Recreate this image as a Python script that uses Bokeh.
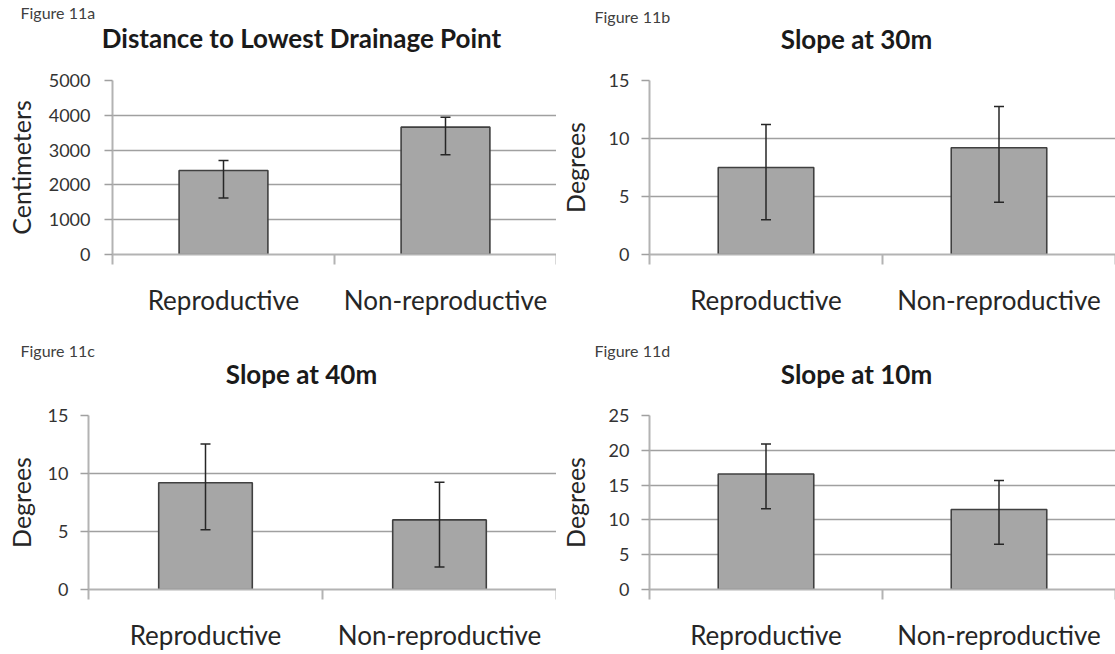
import numpy as np
from bokeh.plotting import figure
from bokeh.models import ColumnDataSource, Range1d, FixedTicker, Whisker, TeeHead, Label
from bokeh.layouts import column, row
from bokeh.embed import file_html
from bokeh.resources import INLINE

# ---------------- data ----------------
categories = ["Reproductive", "Non-reproductive"]

fig_tags = ["Figure 11a", "Figure 11b", "Figure 11c", "Figure 11d"]
titles = ["Distance to Lowest Drainage Point", "Slope at 30m", "Slope at 40m", "Slope at 10m"]
y_labels = ["Centimeters", "Degrees", "Degrees", "Degrees"]
y_max = [5000, 15, 15, 25]
y_step = [1000, 5, 5, 5]

dist_mean = [2415, 3660]
dist_low = [1620, 2865]
dist_high = [2700, 3945]

slope30_mean = [7.5, 9.2]
slope30_low = [3.0, 4.5]
slope30_high = [11.2, 12.75]

slope40_mean = [9.2, 6.0]
slope40_low = [5.15, 1.95]
slope40_high = [12.55, 9.25]

slope10_mean = [16.6, 11.5]
slope10_low = [11.6, 6.5]
slope10_high = [20.9, 15.65]

# ---------------- styling ----------------
FONT = "Lato"
AXIS_COL = "#b3b3b3"
GRID_COL = "#a0a0a0"
TEXT_COL = "#262626"
TEXT_SHIFT = 7  # empirical vertical correction for header labels


def header(i, W, H, ox, oy, title_xy, tag_xy):
    h = figure(width=W, height=H, output_backend="svg", toolbar_location=None,
               tools="", x_range=Range1d(0, W), y_range=Range1d(0, H),
               x_axis_location=None, y_axis_location=None, min_border=0,
               min_border_left=0, min_border_right=0, min_border_top=0,
               min_border_bottom=0)
    h.title.visible = False
    h.outline_line_color = None
    h.grid.visible = False
    h.background_fill_color = "white"
    h.border_fill_color = "white"
    h.add_layout(Label(x=title_xy[0] - ox, y=H - (title_xy[1] - TEXT_SHIFT - oy),
                       text=titles[i], text_font=FONT, text_font_size="26px",
                       text_font_style="bold", text_color="#1a1a1a",
                       text_align="center", text_baseline="alphabetic"))
    h.add_layout(Label(x=tag_xy[0] - ox, y=H - (tag_xy[1] - TEXT_SHIFT - oy),
                       text=fig_tags[i], text_font=FONT, text_font_size="16px",
                       text_font_style="normal", text_color="#404040",
                       text_align="left", text_baseline="alphabetic"))
    return h


def panel(i, mean, low, high, W, H, lb, rb, tb, bb, tick_standoff, label_standoff, bar_w):
    n = len(categories)
    ymax = y_max[i]
    p = figure(width=W, height=H, output_backend="svg", toolbar_location=None,
               tools="", min_border_left=lb, min_border_right=rb,
               min_border_top=tb, min_border_bottom=bb,
               x_range=Range1d(0, n), y_range=Range1d(0, ymax))
    p.title.visible = False
    p.outline_line_color = None
    p.background_fill_color = "white"
    p.border_fill_color = "white"

    centers = [k + 0.5 for k in range(n)]
    edges = [float(k) for k in range(n + 1)]
    src = ColumnDataSource(dict(x=centers, top=mean, low=low, high=high))

    # y grid / axis
    yt = FixedTicker(ticks=list(np.arange(0, ymax + y_step[i] / 2, y_step[i])))
    p.yaxis.ticker = yt
    p.ygrid.ticker = yt
    p.ygrid.grid_line_color = GRID_COL
    p.ygrid.grid_line_width = 1.3
    p.xgrid.visible = False
    p.yaxis.axis_line_color = AXIS_COL
    p.yaxis.axis_line_width = 2
    p.yaxis.major_tick_line_color = GRID_COL
    p.yaxis.major_tick_line_width = 1.3
    p.yaxis.major_tick_in = 0
    p.yaxis.major_tick_out = 8
    p.yaxis.minor_tick_line_color = None
    p.yaxis.major_label_text_font = FONT
    p.yaxis.major_label_text_font_size = "18px"
    p.yaxis.major_label_text_color = "#333333"
    p.yaxis.major_label_standoff = tick_standoff
    p.yaxis.axis_label = y_labels[i]
    p.yaxis.axis_label_text_font = FONT
    p.yaxis.axis_label_text_font_size = "25px"
    p.yaxis.axis_label_text_font_style = "normal"
    p.yaxis.axis_label_text_color = TEXT_COL
    p.yaxis.axis_label_standoff = label_standoff

    # x axis
    p.xaxis.ticker = FixedTicker(ticks=centers, minor_ticks=edges)
    p.xaxis.major_label_overrides = {c: lab for c, lab in zip(centers, categories)}
    p.xaxis.axis_line_color = AXIS_COL
    p.xaxis.axis_line_width = 2
    p.xaxis.major_tick_line_color = None
    p.xaxis.major_tick_in = 0
    p.xaxis.major_tick_out = 0
    p.xaxis.minor_tick_line_color = AXIS_COL
    p.xaxis.minor_tick_line_width = 2
    p.xaxis.minor_tick_in = 0
    p.xaxis.minor_tick_out = 10
    p.xaxis.major_label_text_font = FONT
    p.xaxis.major_label_text_font_size = "26px"
    p.xaxis.major_label_text_color = TEXT_COL
    p.xaxis.major_label_standoff = 19

    p.vbar(x="x", top="top", bottom=0, width=bar_w, source=src,
           fill_color="#a6a6a6", line_color="#404040", line_width=1.6)

    w = Whisker(source=src, base="x", upper="high", lower="low",
                line_color="#262626", line_width=1.5, level="overlay",
                upper_head=TeeHead(size=10, line_color="#262626", line_width=1.5),
                lower_head=TeeHead(size=10, line_color="#262626", line_width=1.5))
    p.add_layout(w)
    return p


LW, RW = 556, 559  # widths of left and right columns

# top row: headers 0..66, charts 66..330 (frames 80..254)
h1 = header(0, LW, 66, 0, 0, (301, 44), (20, 19))
h2 = header(1, RW, 66, LW, 0, (856, 45), (594, 23))
p1 = panel(0, dist_mean, dist_low, dist_high, LW, 264, 112, 0, 14, 76, 14, 10, 0.4)
p2 = panel(1, slope30_mean, slope30_low, slope30_high, RW, 264, 88, 0, 14, 76, 12, 16, 0.41)

# bottom row: headers 330..402, charts 402..654 (frames 415..589)
h3 = header(2, LW, 72, 0, 330, (301, 380), (20, 357))
h4 = header(3, RW, 72, LW, 330, (856, 380), (594, 357))
p3 = panel(2, slope40_mean, slope40_low, slope40_high, LW, 252, 88, 0, 13, 65, 12, 9, 0.4)
p4 = panel(3, slope10_mean, slope10_low, slope10_high, RW, 252, 88, 0, 13, 65, 12, 16, 0.41)

layout = column(row(h1, h2), row(p1, p2), row(h3, h4), row(p3, p4))
open("out.html", "w").write(file_html(layout, INLINE))
